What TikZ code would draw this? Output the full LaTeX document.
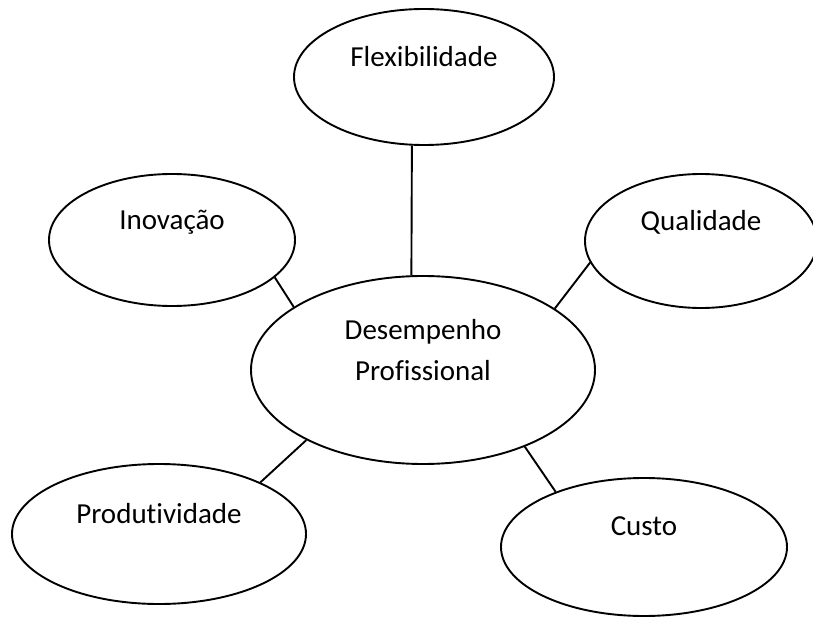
\documentclass[tikz,border=0pt]{standalone}
\usepackage{fontspec}
\setmainfont[Ligatures=NoCommon]{Carlito}
\usetikzlibrary{shapes}

\begin{document}
\begin{tikzpicture}[x=1pt,y=-1pt]
  \tikzstyle{bubble}=[ellipse,draw,line width=1.9pt,inner sep=0pt,align=center,
                      font=\fontsize{29}{41}\selectfont]
  \useasboundingbox (0,0) rectangle (813,617);

  \node[bubble,minimum width=344pt,minimum height=188pt] (D) at (423,370)
    {Desempenho\\Profissional\\~};

  \foreach \name/\x/\y/\w/\h/\text in {F/424/77/260/136/Flexibilidade,
                                       I/172/240/246/132/Inovação,
                                       Q/701/241/232/134/Qualidade,
                                       P/159/534/294/140/Produtividade,
                                       C/644/547/286/138/Custo}
    \node[bubble,minimum width=\w pt,minimum height=\h pt] (\name) at (\x,\y) {\text\\~};

  \foreach \from/\to in {F.260/D.97, I.340/D.154, Q.191/D.25, P.27/D.211, C.148/D.323}
    \draw[line width=1.9pt] (\from) -- (\to);
\end{tikzpicture}
\end{document}
